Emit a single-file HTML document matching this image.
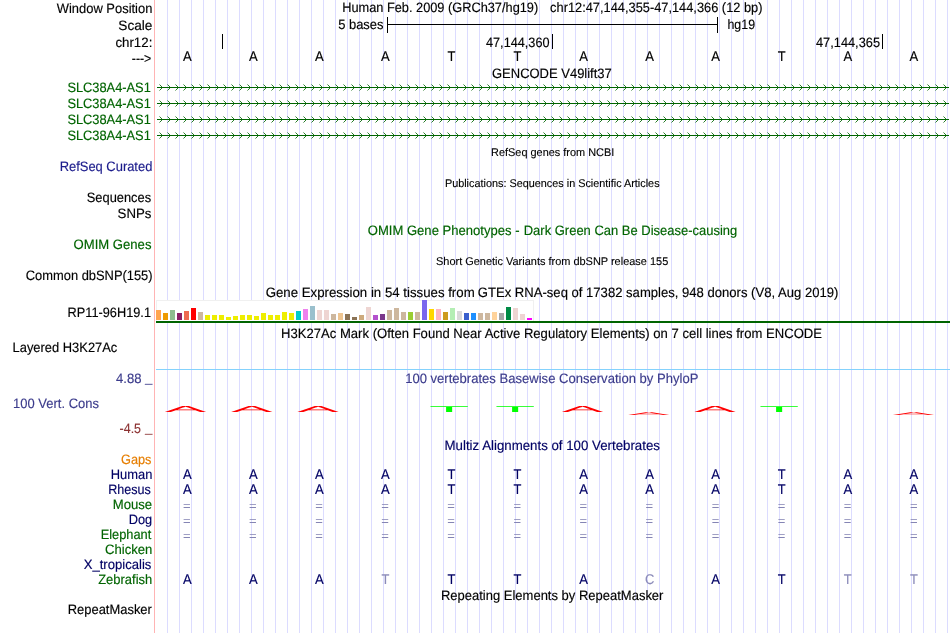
<!DOCTYPE html>
<html lang="en"><head><meta charset="utf-8"><title>UCSC Genome Browser chr12:47,144,355-47,144,366</title>
<style>
html,body{margin:0;padding:0;background:#fff;}
body{width:950px;height:633px;overflow:hidden;}
svg{display:block;}
text{font-family:"Liberation Sans", sans-serif;font-size:13.6px;fill:#000;stroke:#000;stroke-width:0.15px;text-rendering:geometricPrecision;}
.bl{font-size:14.1px;}
.r{text-anchor:end;}
.m{text-anchor:middle;}
.s{font-size:11.2px;stroke-width:0.12px;}
.g{fill:#006400;stroke:#006400;}
.n{fill:#000064;stroke:#000064;}
.n2{fill:#1c1c8c;stroke:#1c1c8c;}
.b{fill:#3c3c8c;stroke:#3c3c8c;}
.o{fill:#e67e00;stroke:#e67e00;}
.br{fill:#8c3232;stroke:#8c3232;}
.l{fill:#8c8cba;stroke:#8c8cba;}
.e{fill:#8585b4;stroke:none;font-size:12.3px;}
</style></head><body>
<svg width="950" height="633" viewBox="0 0 950 633">
<rect width="950" height="633" fill="#fff"/>
<g fill="#dcdcff">
<rect x="167" y="0" width="1" height="633"/>
<rect x="179" y="0" width="1" height="633"/>
<rect x="191" y="0" width="1" height="633"/>
<rect x="203" y="0" width="1" height="633"/>
<rect x="215" y="0" width="1" height="633"/>
<rect x="227" y="0" width="1" height="633"/>
<rect x="239" y="0" width="1" height="633"/>
<rect x="251" y="0" width="1" height="633"/>
<rect x="263" y="0" width="1" height="633"/>
<rect x="275" y="0" width="1" height="633"/>
<rect x="287" y="0" width="1" height="633"/>
<rect x="299" y="0" width="1" height="633"/>
<rect x="311" y="0" width="1" height="633"/>
<rect x="323" y="0" width="1" height="633"/>
<rect x="335" y="0" width="1" height="633"/>
<rect x="347" y="0" width="1" height="633"/>
<rect x="359" y="0" width="1" height="633"/>
<rect x="371" y="0" width="1" height="633"/>
<rect x="383" y="0" width="1" height="633"/>
<rect x="395" y="0" width="1" height="633"/>
<rect x="407" y="0" width="1" height="633"/>
<rect x="419" y="0" width="1" height="633"/>
<rect x="431" y="0" width="1" height="633"/>
<rect x="443" y="0" width="1" height="633"/>
<rect x="455" y="0" width="1" height="633"/>
<rect x="467" y="0" width="1" height="633"/>
<rect x="479" y="0" width="1" height="633"/>
<rect x="491" y="0" width="1" height="633"/>
<rect x="503" y="0" width="1" height="633"/>
<rect x="515" y="0" width="1" height="633"/>
<rect x="527" y="0" width="1" height="633"/>
<rect x="539" y="0" width="1" height="633"/>
<rect x="551" y="0" width="1" height="633"/>
<rect x="563" y="0" width="1" height="633"/>
<rect x="575" y="0" width="1" height="633"/>
<rect x="587" y="0" width="1" height="633"/>
<rect x="599" y="0" width="1" height="633"/>
<rect x="611" y="0" width="1" height="633"/>
<rect x="623" y="0" width="1" height="633"/>
<rect x="635" y="0" width="1" height="633"/>
<rect x="647" y="0" width="1" height="633"/>
<rect x="659" y="0" width="1" height="633"/>
<rect x="671" y="0" width="1" height="633"/>
<rect x="683" y="0" width="1" height="633"/>
<rect x="695" y="0" width="1" height="633"/>
<rect x="707" y="0" width="1" height="633"/>
<rect x="719" y="0" width="1" height="633"/>
<rect x="731" y="0" width="1" height="633"/>
<rect x="743" y="0" width="1" height="633"/>
<rect x="755" y="0" width="1" height="633"/>
<rect x="767" y="0" width="1" height="633"/>
<rect x="779" y="0" width="1" height="633"/>
<rect x="791" y="0" width="1" height="633"/>
<rect x="803" y="0" width="1" height="633"/>
<rect x="815" y="0" width="1" height="633"/>
<rect x="827" y="0" width="1" height="633"/>
<rect x="839" y="0" width="1" height="633"/>
<rect x="851" y="0" width="1" height="633"/>
<rect x="863" y="0" width="1" height="633"/>
<rect x="875" y="0" width="1" height="633"/>
<rect x="887" y="0" width="1" height="633"/>
<rect x="899" y="0" width="1" height="633"/>
<rect x="911" y="0" width="1" height="633"/>
<rect x="923" y="0" width="1" height="633"/>
<rect x="935" y="0" width="1" height="633"/>
<rect x="947" y="0" width="1" height="633"/>
</g>
<rect x="154" y="0" width="1" height="633" fill="#ffb4b4"/>
<text x="56.80" y="12.85" textLength="95.58" lengthAdjust="spacingAndGlyphs">Window Position</text>
<text x="118.35" y="29.85" textLength="34.12" lengthAdjust="spacingAndGlyphs">Scale</text>
<text x="115.39" y="46.85" textLength="36.97" lengthAdjust="spacingAndGlyphs">chr12:</text>
<text x="131.80" y="63.25" textLength="19.48" lengthAdjust="spacingAndGlyphs">---&gt;</text>
<text x="67.40" y="91.85" textLength="83.40" lengthAdjust="spacingAndGlyphs" class="g">SLC38A4-AS1</text>
<text x="67.40" y="107.85" textLength="83.40" lengthAdjust="spacingAndGlyphs" class="g">SLC38A4-AS1</text>
<text x="67.40" y="123.85" textLength="83.40" lengthAdjust="spacingAndGlyphs" class="g">SLC38A4-AS1</text>
<text x="67.40" y="139.85" textLength="83.40" lengthAdjust="spacingAndGlyphs" class="g">SLC38A4-AS1</text>
<text x="59.65" y="170.85" textLength="92.71" lengthAdjust="spacingAndGlyphs" class="n2">RefSeq Curated</text>
<text x="86.80" y="201.85" textLength="64.33" lengthAdjust="spacingAndGlyphs">Sequences</text>
<text x="117.58" y="217.85" textLength="33.81" lengthAdjust="spacingAndGlyphs">SNPs</text>
<text x="73.54" y="248.85" textLength="77.92" lengthAdjust="spacingAndGlyphs" class="g">OMIM Genes</text>
<text x="25.81" y="279.85" textLength="126.78" lengthAdjust="spacingAndGlyphs">Common dbSNP(155)</text>
<text x="67.56" y="316.85" textLength="83.45" lengthAdjust="spacingAndGlyphs">RP11-96H19.1</text>
<text x="12.55" y="351.85" textLength="104.78" lengthAdjust="spacingAndGlyphs">Layered H3K27Ac</text>
<text x="116.00" y="382.85" textLength="25.45" lengthAdjust="spacingAndGlyphs" class="b">4.88</text>
<text x="13.09" y="407.85" textLength="85.85" lengthAdjust="spacingAndGlyphs" class="b">100 Vert. Cons</text>
<text x="119.60" y="432.85" textLength="21.40" lengthAdjust="spacingAndGlyphs" class="br">-4.5</text>
<text x="121.02" y="463.85" textLength="30.48" lengthAdjust="spacingAndGlyphs" class="o">Gaps</text>
<text x="110.75" y="478.85" textLength="41.64" lengthAdjust="spacingAndGlyphs" class="n">Human</text>
<text x="108.18" y="493.85" textLength="42.61" lengthAdjust="spacingAndGlyphs" class="n">Rhesus</text>
<text x="112.73" y="508.85" textLength="39.42" lengthAdjust="spacingAndGlyphs" class="g">Mouse</text>
<text x="128.76" y="523.85" textLength="23.47" lengthAdjust="spacingAndGlyphs" class="n">Dog</text>
<text x="100.66" y="538.85" textLength="50.63" lengthAdjust="spacingAndGlyphs" class="g">Elephant</text>
<text x="105.00" y="553.85" textLength="47.39" lengthAdjust="spacingAndGlyphs" class="g">Chicken</text>
<text x="83.69" y="568.85" textLength="67.67" lengthAdjust="spacingAndGlyphs" class="n">X_tropicalis</text>
<text x="98.20" y="583.85" textLength="54.04" lengthAdjust="spacingAndGlyphs" class="g">Zebrafish</text>
<text x="67.75" y="613.85" textLength="84.10" lengthAdjust="spacingAndGlyphs">RepeatMasker</text>
<text x="342.16" y="11.70" textLength="196.07" lengthAdjust="spacingAndGlyphs">Human Feb. 2009 (GRCh37/hg19)</text>
<text x="550.11" y="11.70" textLength="212.38" lengthAdjust="spacingAndGlyphs">chr12:47,144,355-47,144,366 (12 bp)</text>
<text x="338.20" y="28.85" textLength="45.33" lengthAdjust="spacingAndGlyphs">5 bases</text>
<text x="727.47" y="28.85" textLength="27.56" lengthAdjust="spacingAndGlyphs">hg19</text>
<text x="486.00" y="47.05" textLength="63.54" lengthAdjust="spacingAndGlyphs">47,144,360</text>
<text x="816.00" y="47.05" textLength="64.03" lengthAdjust="spacingAndGlyphs">47,144,365</text>
<text x="492.01" y="77.95" textLength="119.79" lengthAdjust="spacingAndGlyphs">GENCODE V49lift37</text>
<text x="491.11" y="155.85" textLength="123.11" lengthAdjust="spacingAndGlyphs" class="s">RefSeq genes from NCBI</text>
<text x="444.91" y="186.85" textLength="214.67" lengthAdjust="spacingAndGlyphs" class="s">Publications: Sequences in Scientific Articles</text>
<text x="367.75" y="234.55" textLength="151.78" lengthAdjust="spacingAndGlyphs" class="g">OMIM Gene Phenotypes -</text>
<text x="523.75" y="234.55" textLength="213.48" lengthAdjust="spacingAndGlyphs" class="g">Dark Green Can Be Disease-causing</text>
<text x="435.99" y="264.85" textLength="232.25" lengthAdjust="spacingAndGlyphs" class="s">Short Genetic Variants from dbSNP release 155</text>
<text x="265.70" y="296.60" textLength="208.98" lengthAdjust="spacingAndGlyphs">Gene Expression in 54 tissues from</text>
<text x="477.80" y="296.60" textLength="360.56" lengthAdjust="spacingAndGlyphs">GTEx RNA-seq of 17382 samples, 948 donors (V8, Aug 2019)</text>
<text x="281.04" y="337.60" textLength="540.97" lengthAdjust="spacingAndGlyphs">H3K27Ac Mark (Often Found Near Active Regulatory Elements) on 7 cell lines from ENCODE</text>
<text x="405.18" y="383.40" textLength="293.19" lengthAdjust="spacingAndGlyphs" class="b">100 vertebrates Basewise Conservation by PhyloP</text>
<text x="444.52" y="449.50" textLength="215.43" lengthAdjust="spacingAndGlyphs" class="n">Multiz Alignments of 100 Vertebrates</text>
<text x="440.94" y="599.60" textLength="222.50" lengthAdjust="spacingAndGlyphs">Repeating Elements by RepeatMasker</text>
<text x="144.9" y="381.8" class="b" style="stroke:none" textLength="7.4" lengthAdjust="spacingAndGlyphs">_</text>
<text x="144.9" y="431.7" class="br" style="stroke:none" textLength="7.4" lengthAdjust="spacingAndGlyphs">_</text>
<g fill="#000">
<rect x="387" y="24" width="331" height="1"/>
<rect x="387" y="17" width="1" height="16"/>
<rect x="717" y="17" width="1" height="16"/>
<rect x="222" y="34" width="1" height="15"/>
<rect x="552" y="34" width="1" height="15"/>
<rect x="882" y="34" width="1" height="15"/>
</g>
<text x="182.95" y="60.55" textLength="8.70" lengthAdjust="spacingAndGlyphs" class="bl">A</text>
<text x="249.00" y="60.55" textLength="8.70" lengthAdjust="spacingAndGlyphs" class="bl">A</text>
<text x="315.05" y="60.55" textLength="8.70" lengthAdjust="spacingAndGlyphs" class="bl">A</text>
<text x="381.10" y="60.55" textLength="8.70" lengthAdjust="spacingAndGlyphs" class="bl">A</text>
<text x="447.56" y="60.55" textLength="7.88" lengthAdjust="spacingAndGlyphs" class="bl">T</text>
<text x="513.61" y="60.55" textLength="7.88" lengthAdjust="spacingAndGlyphs" class="bl">T</text>
<text x="579.25" y="60.55" textLength="8.70" lengthAdjust="spacingAndGlyphs" class="bl">A</text>
<text x="645.30" y="60.55" textLength="8.70" lengthAdjust="spacingAndGlyphs" class="bl">A</text>
<text x="711.35" y="60.55" textLength="8.70" lengthAdjust="spacingAndGlyphs" class="bl">A</text>
<text x="777.81" y="60.55" textLength="7.88" lengthAdjust="spacingAndGlyphs" class="bl">T</text>
<text x="843.45" y="60.55" textLength="8.70" lengthAdjust="spacingAndGlyphs" class="bl">A</text>
<text x="909.50" y="60.55" textLength="8.70" lengthAdjust="spacingAndGlyphs" class="bl">A</text>
<g stroke="#006400" stroke-width="1" fill="none">
<path d="M157 87.5H949"/>
<path d="M159.5 84.5L162.5 87.5L159.5 90.5M167.5 84.5L170.5 87.5L167.5 90.5M175.5 84.5L178.5 87.5L175.5 90.5M183.5 84.5L186.5 87.5L183.5 90.5M191.5 84.5L194.5 87.5L191.5 90.5M199.5 84.5L202.5 87.5L199.5 90.5M207.5 84.5L210.5 87.5L207.5 90.5M215.5 84.5L218.5 87.5L215.5 90.5M223.5 84.5L226.5 87.5L223.5 90.5M231.5 84.5L234.5 87.5L231.5 90.5M239.5 84.5L242.5 87.5L239.5 90.5M247.5 84.5L250.5 87.5L247.5 90.5M255.5 84.5L258.5 87.5L255.5 90.5M263.5 84.5L266.5 87.5L263.5 90.5M271.5 84.5L274.5 87.5L271.5 90.5M279.5 84.5L282.5 87.5L279.5 90.5M287.5 84.5L290.5 87.5L287.5 90.5M295.5 84.5L298.5 87.5L295.5 90.5M303.5 84.5L306.5 87.5L303.5 90.5M311.5 84.5L314.5 87.5L311.5 90.5M319.5 84.5L322.5 87.5L319.5 90.5M327.5 84.5L330.5 87.5L327.5 90.5M335.5 84.5L338.5 87.5L335.5 90.5M343.5 84.5L346.5 87.5L343.5 90.5M351.5 84.5L354.5 87.5L351.5 90.5M359.5 84.5L362.5 87.5L359.5 90.5M367.5 84.5L370.5 87.5L367.5 90.5M375.5 84.5L378.5 87.5L375.5 90.5M383.5 84.5L386.5 87.5L383.5 90.5M391.5 84.5L394.5 87.5L391.5 90.5M399.5 84.5L402.5 87.5L399.5 90.5M407.5 84.5L410.5 87.5L407.5 90.5M415.5 84.5L418.5 87.5L415.5 90.5M423.5 84.5L426.5 87.5L423.5 90.5M431.5 84.5L434.5 87.5L431.5 90.5M439.5 84.5L442.5 87.5L439.5 90.5M447.5 84.5L450.5 87.5L447.5 90.5M455.5 84.5L458.5 87.5L455.5 90.5M463.5 84.5L466.5 87.5L463.5 90.5M471.5 84.5L474.5 87.5L471.5 90.5M479.5 84.5L482.5 87.5L479.5 90.5M487.5 84.5L490.5 87.5L487.5 90.5M495.5 84.5L498.5 87.5L495.5 90.5M503.5 84.5L506.5 87.5L503.5 90.5M511.5 84.5L514.5 87.5L511.5 90.5M519.5 84.5L522.5 87.5L519.5 90.5M527.5 84.5L530.5 87.5L527.5 90.5M535.5 84.5L538.5 87.5L535.5 90.5M543.5 84.5L546.5 87.5L543.5 90.5M551.5 84.5L554.5 87.5L551.5 90.5M559.5 84.5L562.5 87.5L559.5 90.5M567.5 84.5L570.5 87.5L567.5 90.5M575.5 84.5L578.5 87.5L575.5 90.5M583.5 84.5L586.5 87.5L583.5 90.5M591.5 84.5L594.5 87.5L591.5 90.5M599.5 84.5L602.5 87.5L599.5 90.5M607.5 84.5L610.5 87.5L607.5 90.5M615.5 84.5L618.5 87.5L615.5 90.5M623.5 84.5L626.5 87.5L623.5 90.5M631.5 84.5L634.5 87.5L631.5 90.5M639.5 84.5L642.5 87.5L639.5 90.5M647.5 84.5L650.5 87.5L647.5 90.5M655.5 84.5L658.5 87.5L655.5 90.5M663.5 84.5L666.5 87.5L663.5 90.5M671.5 84.5L674.5 87.5L671.5 90.5M679.5 84.5L682.5 87.5L679.5 90.5M687.5 84.5L690.5 87.5L687.5 90.5M695.5 84.5L698.5 87.5L695.5 90.5M703.5 84.5L706.5 87.5L703.5 90.5M711.5 84.5L714.5 87.5L711.5 90.5M719.5 84.5L722.5 87.5L719.5 90.5M727.5 84.5L730.5 87.5L727.5 90.5M735.5 84.5L738.5 87.5L735.5 90.5M743.5 84.5L746.5 87.5L743.5 90.5M751.5 84.5L754.5 87.5L751.5 90.5M759.5 84.5L762.5 87.5L759.5 90.5M767.5 84.5L770.5 87.5L767.5 90.5M775.5 84.5L778.5 87.5L775.5 90.5M783.5 84.5L786.5 87.5L783.5 90.5M791.5 84.5L794.5 87.5L791.5 90.5M799.5 84.5L802.5 87.5L799.5 90.5M807.5 84.5L810.5 87.5L807.5 90.5M815.5 84.5L818.5 87.5L815.5 90.5M823.5 84.5L826.5 87.5L823.5 90.5M831.5 84.5L834.5 87.5L831.5 90.5M839.5 84.5L842.5 87.5L839.5 90.5M847.5 84.5L850.5 87.5L847.5 90.5M855.5 84.5L858.5 87.5L855.5 90.5M863.5 84.5L866.5 87.5L863.5 90.5M871.5 84.5L874.5 87.5L871.5 90.5M879.5 84.5L882.5 87.5L879.5 90.5M887.5 84.5L890.5 87.5L887.5 90.5M895.5 84.5L898.5 87.5L895.5 90.5M903.5 84.5L906.5 87.5L903.5 90.5M911.5 84.5L914.5 87.5L911.5 90.5M919.5 84.5L922.5 87.5L919.5 90.5M927.5 84.5L930.5 87.5L927.5 90.5M935.5 84.5L938.5 87.5L935.5 90.5M943.5 84.5L946.5 87.5L943.5 90.5" stroke-width="0.85"/>
<path d="M157 103.5H949"/>
<path d="M159.5 100.5L162.5 103.5L159.5 106.5M167.5 100.5L170.5 103.5L167.5 106.5M175.5 100.5L178.5 103.5L175.5 106.5M183.5 100.5L186.5 103.5L183.5 106.5M191.5 100.5L194.5 103.5L191.5 106.5M199.5 100.5L202.5 103.5L199.5 106.5M207.5 100.5L210.5 103.5L207.5 106.5M215.5 100.5L218.5 103.5L215.5 106.5M223.5 100.5L226.5 103.5L223.5 106.5M231.5 100.5L234.5 103.5L231.5 106.5M239.5 100.5L242.5 103.5L239.5 106.5M247.5 100.5L250.5 103.5L247.5 106.5M255.5 100.5L258.5 103.5L255.5 106.5M263.5 100.5L266.5 103.5L263.5 106.5M271.5 100.5L274.5 103.5L271.5 106.5M279.5 100.5L282.5 103.5L279.5 106.5M287.5 100.5L290.5 103.5L287.5 106.5M295.5 100.5L298.5 103.5L295.5 106.5M303.5 100.5L306.5 103.5L303.5 106.5M311.5 100.5L314.5 103.5L311.5 106.5M319.5 100.5L322.5 103.5L319.5 106.5M327.5 100.5L330.5 103.5L327.5 106.5M335.5 100.5L338.5 103.5L335.5 106.5M343.5 100.5L346.5 103.5L343.5 106.5M351.5 100.5L354.5 103.5L351.5 106.5M359.5 100.5L362.5 103.5L359.5 106.5M367.5 100.5L370.5 103.5L367.5 106.5M375.5 100.5L378.5 103.5L375.5 106.5M383.5 100.5L386.5 103.5L383.5 106.5M391.5 100.5L394.5 103.5L391.5 106.5M399.5 100.5L402.5 103.5L399.5 106.5M407.5 100.5L410.5 103.5L407.5 106.5M415.5 100.5L418.5 103.5L415.5 106.5M423.5 100.5L426.5 103.5L423.5 106.5M431.5 100.5L434.5 103.5L431.5 106.5M439.5 100.5L442.5 103.5L439.5 106.5M447.5 100.5L450.5 103.5L447.5 106.5M455.5 100.5L458.5 103.5L455.5 106.5M463.5 100.5L466.5 103.5L463.5 106.5M471.5 100.5L474.5 103.5L471.5 106.5M479.5 100.5L482.5 103.5L479.5 106.5M487.5 100.5L490.5 103.5L487.5 106.5M495.5 100.5L498.5 103.5L495.5 106.5M503.5 100.5L506.5 103.5L503.5 106.5M511.5 100.5L514.5 103.5L511.5 106.5M519.5 100.5L522.5 103.5L519.5 106.5M527.5 100.5L530.5 103.5L527.5 106.5M535.5 100.5L538.5 103.5L535.5 106.5M543.5 100.5L546.5 103.5L543.5 106.5M551.5 100.5L554.5 103.5L551.5 106.5M559.5 100.5L562.5 103.5L559.5 106.5M567.5 100.5L570.5 103.5L567.5 106.5M575.5 100.5L578.5 103.5L575.5 106.5M583.5 100.5L586.5 103.5L583.5 106.5M591.5 100.5L594.5 103.5L591.5 106.5M599.5 100.5L602.5 103.5L599.5 106.5M607.5 100.5L610.5 103.5L607.5 106.5M615.5 100.5L618.5 103.5L615.5 106.5M623.5 100.5L626.5 103.5L623.5 106.5M631.5 100.5L634.5 103.5L631.5 106.5M639.5 100.5L642.5 103.5L639.5 106.5M647.5 100.5L650.5 103.5L647.5 106.5M655.5 100.5L658.5 103.5L655.5 106.5M663.5 100.5L666.5 103.5L663.5 106.5M671.5 100.5L674.5 103.5L671.5 106.5M679.5 100.5L682.5 103.5L679.5 106.5M687.5 100.5L690.5 103.5L687.5 106.5M695.5 100.5L698.5 103.5L695.5 106.5M703.5 100.5L706.5 103.5L703.5 106.5M711.5 100.5L714.5 103.5L711.5 106.5M719.5 100.5L722.5 103.5L719.5 106.5M727.5 100.5L730.5 103.5L727.5 106.5M735.5 100.5L738.5 103.5L735.5 106.5M743.5 100.5L746.5 103.5L743.5 106.5M751.5 100.5L754.5 103.5L751.5 106.5M759.5 100.5L762.5 103.5L759.5 106.5M767.5 100.5L770.5 103.5L767.5 106.5M775.5 100.5L778.5 103.5L775.5 106.5M783.5 100.5L786.5 103.5L783.5 106.5M791.5 100.5L794.5 103.5L791.5 106.5M799.5 100.5L802.5 103.5L799.5 106.5M807.5 100.5L810.5 103.5L807.5 106.5M815.5 100.5L818.5 103.5L815.5 106.5M823.5 100.5L826.5 103.5L823.5 106.5M831.5 100.5L834.5 103.5L831.5 106.5M839.5 100.5L842.5 103.5L839.5 106.5M847.5 100.5L850.5 103.5L847.5 106.5M855.5 100.5L858.5 103.5L855.5 106.5M863.5 100.5L866.5 103.5L863.5 106.5M871.5 100.5L874.5 103.5L871.5 106.5M879.5 100.5L882.5 103.5L879.5 106.5M887.5 100.5L890.5 103.5L887.5 106.5M895.5 100.5L898.5 103.5L895.5 106.5M903.5 100.5L906.5 103.5L903.5 106.5M911.5 100.5L914.5 103.5L911.5 106.5M919.5 100.5L922.5 103.5L919.5 106.5M927.5 100.5L930.5 103.5L927.5 106.5M935.5 100.5L938.5 103.5L935.5 106.5M943.5 100.5L946.5 103.5L943.5 106.5" stroke-width="0.85"/>
<path d="M157 119.5H949"/>
<path d="M159.5 116.5L162.5 119.5L159.5 122.5M167.5 116.5L170.5 119.5L167.5 122.5M175.5 116.5L178.5 119.5L175.5 122.5M183.5 116.5L186.5 119.5L183.5 122.5M191.5 116.5L194.5 119.5L191.5 122.5M199.5 116.5L202.5 119.5L199.5 122.5M207.5 116.5L210.5 119.5L207.5 122.5M215.5 116.5L218.5 119.5L215.5 122.5M223.5 116.5L226.5 119.5L223.5 122.5M231.5 116.5L234.5 119.5L231.5 122.5M239.5 116.5L242.5 119.5L239.5 122.5M247.5 116.5L250.5 119.5L247.5 122.5M255.5 116.5L258.5 119.5L255.5 122.5M263.5 116.5L266.5 119.5L263.5 122.5M271.5 116.5L274.5 119.5L271.5 122.5M279.5 116.5L282.5 119.5L279.5 122.5M287.5 116.5L290.5 119.5L287.5 122.5M295.5 116.5L298.5 119.5L295.5 122.5M303.5 116.5L306.5 119.5L303.5 122.5M311.5 116.5L314.5 119.5L311.5 122.5M319.5 116.5L322.5 119.5L319.5 122.5M327.5 116.5L330.5 119.5L327.5 122.5M335.5 116.5L338.5 119.5L335.5 122.5M343.5 116.5L346.5 119.5L343.5 122.5M351.5 116.5L354.5 119.5L351.5 122.5M359.5 116.5L362.5 119.5L359.5 122.5M367.5 116.5L370.5 119.5L367.5 122.5M375.5 116.5L378.5 119.5L375.5 122.5M383.5 116.5L386.5 119.5L383.5 122.5M391.5 116.5L394.5 119.5L391.5 122.5M399.5 116.5L402.5 119.5L399.5 122.5M407.5 116.5L410.5 119.5L407.5 122.5M415.5 116.5L418.5 119.5L415.5 122.5M423.5 116.5L426.5 119.5L423.5 122.5M431.5 116.5L434.5 119.5L431.5 122.5M439.5 116.5L442.5 119.5L439.5 122.5M447.5 116.5L450.5 119.5L447.5 122.5M455.5 116.5L458.5 119.5L455.5 122.5M463.5 116.5L466.5 119.5L463.5 122.5M471.5 116.5L474.5 119.5L471.5 122.5M479.5 116.5L482.5 119.5L479.5 122.5M487.5 116.5L490.5 119.5L487.5 122.5M495.5 116.5L498.5 119.5L495.5 122.5M503.5 116.5L506.5 119.5L503.5 122.5M511.5 116.5L514.5 119.5L511.5 122.5M519.5 116.5L522.5 119.5L519.5 122.5M527.5 116.5L530.5 119.5L527.5 122.5M535.5 116.5L538.5 119.5L535.5 122.5M543.5 116.5L546.5 119.5L543.5 122.5M551.5 116.5L554.5 119.5L551.5 122.5M559.5 116.5L562.5 119.5L559.5 122.5M567.5 116.5L570.5 119.5L567.5 122.5M575.5 116.5L578.5 119.5L575.5 122.5M583.5 116.5L586.5 119.5L583.5 122.5M591.5 116.5L594.5 119.5L591.5 122.5M599.5 116.5L602.5 119.5L599.5 122.5M607.5 116.5L610.5 119.5L607.5 122.5M615.5 116.5L618.5 119.5L615.5 122.5M623.5 116.5L626.5 119.5L623.5 122.5M631.5 116.5L634.5 119.5L631.5 122.5M639.5 116.5L642.5 119.5L639.5 122.5M647.5 116.5L650.5 119.5L647.5 122.5M655.5 116.5L658.5 119.5L655.5 122.5M663.5 116.5L666.5 119.5L663.5 122.5M671.5 116.5L674.5 119.5L671.5 122.5M679.5 116.5L682.5 119.5L679.5 122.5M687.5 116.5L690.5 119.5L687.5 122.5M695.5 116.5L698.5 119.5L695.5 122.5M703.5 116.5L706.5 119.5L703.5 122.5M711.5 116.5L714.5 119.5L711.5 122.5M719.5 116.5L722.5 119.5L719.5 122.5M727.5 116.5L730.5 119.5L727.5 122.5M735.5 116.5L738.5 119.5L735.5 122.5M743.5 116.5L746.5 119.5L743.5 122.5M751.5 116.5L754.5 119.5L751.5 122.5M759.5 116.5L762.5 119.5L759.5 122.5M767.5 116.5L770.5 119.5L767.5 122.5M775.5 116.5L778.5 119.5L775.5 122.5M783.5 116.5L786.5 119.5L783.5 122.5M791.5 116.5L794.5 119.5L791.5 122.5M799.5 116.5L802.5 119.5L799.5 122.5M807.5 116.5L810.5 119.5L807.5 122.5M815.5 116.5L818.5 119.5L815.5 122.5M823.5 116.5L826.5 119.5L823.5 122.5M831.5 116.5L834.5 119.5L831.5 122.5M839.5 116.5L842.5 119.5L839.5 122.5M847.5 116.5L850.5 119.5L847.5 122.5M855.5 116.5L858.5 119.5L855.5 122.5M863.5 116.5L866.5 119.5L863.5 122.5M871.5 116.5L874.5 119.5L871.5 122.5M879.5 116.5L882.5 119.5L879.5 122.5M887.5 116.5L890.5 119.5L887.5 122.5M895.5 116.5L898.5 119.5L895.5 122.5M903.5 116.5L906.5 119.5L903.5 122.5M911.5 116.5L914.5 119.5L911.5 122.5M919.5 116.5L922.5 119.5L919.5 122.5M927.5 116.5L930.5 119.5L927.5 122.5M935.5 116.5L938.5 119.5L935.5 122.5M943.5 116.5L946.5 119.5L943.5 122.5" stroke-width="0.85"/>
<path d="M157 135.5H949"/>
<path d="M159.5 132.5L162.5 135.5L159.5 138.5M167.5 132.5L170.5 135.5L167.5 138.5M175.5 132.5L178.5 135.5L175.5 138.5M183.5 132.5L186.5 135.5L183.5 138.5M191.5 132.5L194.5 135.5L191.5 138.5M199.5 132.5L202.5 135.5L199.5 138.5M207.5 132.5L210.5 135.5L207.5 138.5M215.5 132.5L218.5 135.5L215.5 138.5M223.5 132.5L226.5 135.5L223.5 138.5M231.5 132.5L234.5 135.5L231.5 138.5M239.5 132.5L242.5 135.5L239.5 138.5M247.5 132.5L250.5 135.5L247.5 138.5M255.5 132.5L258.5 135.5L255.5 138.5M263.5 132.5L266.5 135.5L263.5 138.5M271.5 132.5L274.5 135.5L271.5 138.5M279.5 132.5L282.5 135.5L279.5 138.5M287.5 132.5L290.5 135.5L287.5 138.5M295.5 132.5L298.5 135.5L295.5 138.5M303.5 132.5L306.5 135.5L303.5 138.5M311.5 132.5L314.5 135.5L311.5 138.5M319.5 132.5L322.5 135.5L319.5 138.5M327.5 132.5L330.5 135.5L327.5 138.5M335.5 132.5L338.5 135.5L335.5 138.5M343.5 132.5L346.5 135.5L343.5 138.5M351.5 132.5L354.5 135.5L351.5 138.5M359.5 132.5L362.5 135.5L359.5 138.5M367.5 132.5L370.5 135.5L367.5 138.5M375.5 132.5L378.5 135.5L375.5 138.5M383.5 132.5L386.5 135.5L383.5 138.5M391.5 132.5L394.5 135.5L391.5 138.5M399.5 132.5L402.5 135.5L399.5 138.5M407.5 132.5L410.5 135.5L407.5 138.5M415.5 132.5L418.5 135.5L415.5 138.5M423.5 132.5L426.5 135.5L423.5 138.5M431.5 132.5L434.5 135.5L431.5 138.5M439.5 132.5L442.5 135.5L439.5 138.5M447.5 132.5L450.5 135.5L447.5 138.5M455.5 132.5L458.5 135.5L455.5 138.5M463.5 132.5L466.5 135.5L463.5 138.5M471.5 132.5L474.5 135.5L471.5 138.5M479.5 132.5L482.5 135.5L479.5 138.5M487.5 132.5L490.5 135.5L487.5 138.5M495.5 132.5L498.5 135.5L495.5 138.5M503.5 132.5L506.5 135.5L503.5 138.5M511.5 132.5L514.5 135.5L511.5 138.5M519.5 132.5L522.5 135.5L519.5 138.5M527.5 132.5L530.5 135.5L527.5 138.5M535.5 132.5L538.5 135.5L535.5 138.5M543.5 132.5L546.5 135.5L543.5 138.5M551.5 132.5L554.5 135.5L551.5 138.5M559.5 132.5L562.5 135.5L559.5 138.5M567.5 132.5L570.5 135.5L567.5 138.5M575.5 132.5L578.5 135.5L575.5 138.5M583.5 132.5L586.5 135.5L583.5 138.5M591.5 132.5L594.5 135.5L591.5 138.5M599.5 132.5L602.5 135.5L599.5 138.5M607.5 132.5L610.5 135.5L607.5 138.5M615.5 132.5L618.5 135.5L615.5 138.5M623.5 132.5L626.5 135.5L623.5 138.5M631.5 132.5L634.5 135.5L631.5 138.5M639.5 132.5L642.5 135.5L639.5 138.5M647.5 132.5L650.5 135.5L647.5 138.5M655.5 132.5L658.5 135.5L655.5 138.5M663.5 132.5L666.5 135.5L663.5 138.5M671.5 132.5L674.5 135.5L671.5 138.5M679.5 132.5L682.5 135.5L679.5 138.5M687.5 132.5L690.5 135.5L687.5 138.5M695.5 132.5L698.5 135.5L695.5 138.5M703.5 132.5L706.5 135.5L703.5 138.5M711.5 132.5L714.5 135.5L711.5 138.5M719.5 132.5L722.5 135.5L719.5 138.5M727.5 132.5L730.5 135.5L727.5 138.5M735.5 132.5L738.5 135.5L735.5 138.5M743.5 132.5L746.5 135.5L743.5 138.5M751.5 132.5L754.5 135.5L751.5 138.5M759.5 132.5L762.5 135.5L759.5 138.5M767.5 132.5L770.5 135.5L767.5 138.5M775.5 132.5L778.5 135.5L775.5 138.5M783.5 132.5L786.5 135.5L783.5 138.5M791.5 132.5L794.5 135.5L791.5 138.5M799.5 132.5L802.5 135.5L799.5 138.5M807.5 132.5L810.5 135.5L807.5 138.5M815.5 132.5L818.5 135.5L815.5 138.5M823.5 132.5L826.5 135.5L823.5 138.5M831.5 132.5L834.5 135.5L831.5 138.5M839.5 132.5L842.5 135.5L839.5 138.5M847.5 132.5L850.5 135.5L847.5 138.5M855.5 132.5L858.5 135.5L855.5 138.5M863.5 132.5L866.5 135.5L863.5 138.5M871.5 132.5L874.5 135.5L871.5 138.5M879.5 132.5L882.5 135.5L879.5 138.5M887.5 132.5L890.5 135.5L887.5 138.5M895.5 132.5L898.5 135.5L895.5 138.5M903.5 132.5L906.5 135.5L903.5 138.5M911.5 132.5L914.5 135.5L911.5 138.5M919.5 132.5L922.5 135.5L919.5 138.5M927.5 132.5L930.5 135.5L927.5 138.5M935.5 132.5L938.5 135.5L935.5 138.5M943.5 132.5L946.5 135.5L943.5 138.5" stroke-width="0.85"/>
</g>
<rect x="156.5" y="300.5" width="377" height="21" fill="#fff" stroke="#f0f0f0"/>
<rect x="156" y="310" width="5" height="10" fill="#ffa54f"/>
<rect x="163" y="313" width="5" height="7" fill="#ee9a00"/>
<rect x="170" y="310" width="5" height="10" fill="#8fbc8f"/>
<rect x="177" y="313" width="5" height="7" fill="#8b1c62"/>
<rect x="184" y="311" width="5" height="9" fill="#ee6a50"/>
<rect x="191" y="308" width="5" height="12" fill="#ff0000"/>
<rect x="198" y="312" width="5" height="8" fill="#cdb79e"/>
<rect x="205" y="315" width="5" height="5" fill="#eeee00"/>
<rect x="212" y="315" width="5" height="5" fill="#eeee00"/>
<rect x="219" y="315" width="5" height="5" fill="#eeee00"/>
<rect x="226" y="317" width="5" height="3" fill="#eeee00"/>
<rect x="233" y="316" width="5" height="4" fill="#eeee00"/>
<rect x="240" y="315" width="5" height="5" fill="#eeee00"/>
<rect x="247" y="315" width="5" height="5" fill="#eeee00"/>
<rect x="254" y="316" width="5" height="4" fill="#eeee00"/>
<rect x="261" y="313" width="5" height="7" fill="#eeee00"/>
<rect x="268" y="315" width="5" height="5" fill="#eeee00"/>
<rect x="275" y="315" width="5" height="5" fill="#eeee00"/>
<rect x="282" y="312" width="5" height="8" fill="#eeee00"/>
<rect x="289" y="313" width="5" height="7" fill="#eeee00"/>
<rect x="296" y="311" width="5" height="9" fill="#00cdcd"/>
<rect x="303" y="309" width="5" height="11" fill="#ee82ee"/>
<rect x="310" y="306" width="5" height="14" fill="#9ac0cd"/>
<rect x="317" y="310" width="5" height="10" fill="#eed5d2"/>
<rect x="324" y="310" width="5" height="10" fill="#eed5d2"/>
<rect x="331" y="314" width="5" height="6" fill="#cdb79e"/>
<rect x="338" y="313" width="5" height="7" fill="#eec591"/>
<rect x="345" y="314" width="5" height="6" fill="#8b7355"/>
<rect x="352" y="317" width="5" height="3" fill="#8b7355"/>
<rect x="359" y="315" width="5" height="5" fill="#cdaa7d"/>
<rect x="366" y="307" width="5" height="13" fill="#eed5d2"/>
<rect x="373" y="315" width="5" height="5" fill="#b452cd"/>
<rect x="380" y="314" width="5" height="6" fill="#7a378b"/>
<rect x="387" y="310" width="5" height="10" fill="#cdb79e"/>
<rect x="394" y="308" width="5" height="12" fill="#cdb79e"/>
<rect x="401" y="312" width="5" height="8" fill="#cdb79e"/>
<rect x="408" y="312" width="5" height="8" fill="#9acd32"/>
<rect x="415" y="312" width="5" height="8" fill="#cdb79e"/>
<rect x="422" y="300" width="5" height="20" fill="#7a67ee"/>
<rect x="429" y="309" width="5" height="11" fill="#ffd700"/>
<rect x="436" y="309" width="5" height="11" fill="#ffb6c1"/>
<rect x="443" y="312" width="5" height="8" fill="#cd9b1d"/>
<rect x="450" y="308" width="5" height="12" fill="#b4eeb4"/>
<rect x="457" y="311" width="5" height="9" fill="#d9d9d9"/>
<rect x="464" y="313" width="5" height="7" fill="#3a5fcd"/>
<rect x="471" y="313" width="5" height="7" fill="#1e90ff"/>
<rect x="478" y="313" width="5" height="7" fill="#cdb79e"/>
<rect x="485" y="313" width="5" height="7" fill="#cdb79e"/>
<rect x="492" y="312" width="5" height="8" fill="#ffd39b"/>
<rect x="499" y="313" width="5" height="7" fill="#a6a6a6"/>
<rect x="506" y="307" width="5" height="13" fill="#008b45"/>
<rect x="513" y="308" width="5" height="12" fill="#eed5d2"/>
<rect x="520" y="314" width="5" height="6" fill="#eed5d2"/>
<rect x="527" y="318" width="5" height="2" fill="#ff00ff"/>
<rect x="156" y="321" width="794" height="2" fill="#006400"/>
<rect x="156" y="369" width="794" height="1" fill="#84d2fd"/>
<text transform="translate(185.6 412) scale(3.1109 0.4399)" x="0" y="0" class="m" style="font-size:20.0px;fill:#ff0000;stroke:none">A</text>
<text transform="translate(251.76999999999998 412) scale(3.1109 0.4399)" x="0" y="0" class="m" style="font-size:20.0px;fill:#ff0000;stroke:none">A</text>
<text transform="translate(317.94 412) scale(3.1109 0.4399)" x="0" y="0" class="m" style="font-size:20.0px;fill:#ff0000;stroke:none">A</text>
<text transform="translate(449.05 412) scale(3.2997 0.4190)" x="0" y="0" class="m" style="font-size:20.0px;fill:#00ff00;stroke:none">T</text>
<text transform="translate(515.05 412) scale(3.2997 0.4190)" x="0" y="0" class="m" style="font-size:20.0px;fill:#00ff00;stroke:none">T</text>
<text transform="translate(582.62 412) scale(3.1109 0.4399)" x="0" y="0" class="m" style="font-size:20.0px;fill:#ff0000;stroke:none">A</text>
<text transform="translate(648.79 415) scale(3.1109 0.2095)" x="0" y="0" class="m" style="font-size:20.0px;fill:#ff0000;stroke:none">A</text>
<text transform="translate(714.96 412) scale(3.1109 0.4399)" x="0" y="0" class="m" style="font-size:20.0px;fill:#ff0000;stroke:none">A</text>
<text transform="translate(779.05 412) scale(3.2997 0.4190)" x="0" y="0" class="m" style="font-size:20.0px;fill:#00ff00;stroke:none">T</text>
<text transform="translate(913.47 415) scale(3.1109 0.2095)" x="0" y="0" class="m" style="font-size:20.0px;fill:#ff0000;stroke:none">A</text>
<text x="182.95" y="478.85" textLength="8.70" lengthAdjust="spacingAndGlyphs" class="bl n">A</text>
<text x="249.00" y="478.85" textLength="8.70" lengthAdjust="spacingAndGlyphs" class="bl n">A</text>
<text x="315.05" y="478.85" textLength="8.70" lengthAdjust="spacingAndGlyphs" class="bl n">A</text>
<text x="381.10" y="478.85" textLength="8.70" lengthAdjust="spacingAndGlyphs" class="bl n">A</text>
<text x="447.56" y="478.85" textLength="7.88" lengthAdjust="spacingAndGlyphs" class="bl n">T</text>
<text x="513.61" y="478.85" textLength="7.88" lengthAdjust="spacingAndGlyphs" class="bl n">T</text>
<text x="579.25" y="478.85" textLength="8.70" lengthAdjust="spacingAndGlyphs" class="bl n">A</text>
<text x="645.30" y="478.85" textLength="8.70" lengthAdjust="spacingAndGlyphs" class="bl n">A</text>
<text x="711.35" y="478.85" textLength="8.70" lengthAdjust="spacingAndGlyphs" class="bl n">A</text>
<text x="777.81" y="478.85" textLength="7.88" lengthAdjust="spacingAndGlyphs" class="bl n">T</text>
<text x="843.45" y="478.85" textLength="8.70" lengthAdjust="spacingAndGlyphs" class="bl n">A</text>
<text x="909.50" y="478.85" textLength="8.70" lengthAdjust="spacingAndGlyphs" class="bl n">A</text>
<text x="182.95" y="493.85" textLength="8.70" lengthAdjust="spacingAndGlyphs" class="bl n">A</text>
<text x="249.00" y="493.85" textLength="8.70" lengthAdjust="spacingAndGlyphs" class="bl n">A</text>
<text x="315.05" y="493.85" textLength="8.70" lengthAdjust="spacingAndGlyphs" class="bl n">A</text>
<text x="381.10" y="493.85" textLength="8.70" lengthAdjust="spacingAndGlyphs" class="bl n">A</text>
<text x="447.56" y="493.85" textLength="7.88" lengthAdjust="spacingAndGlyphs" class="bl n">T</text>
<text x="513.61" y="493.85" textLength="7.88" lengthAdjust="spacingAndGlyphs" class="bl n">T</text>
<text x="579.25" y="493.85" textLength="8.70" lengthAdjust="spacingAndGlyphs" class="bl n">A</text>
<text x="645.30" y="493.85" textLength="8.70" lengthAdjust="spacingAndGlyphs" class="bl n">A</text>
<text x="711.35" y="493.85" textLength="8.70" lengthAdjust="spacingAndGlyphs" class="bl n">A</text>
<text x="777.81" y="493.85" textLength="7.88" lengthAdjust="spacingAndGlyphs" class="bl n">T</text>
<text x="843.45" y="493.85" textLength="8.70" lengthAdjust="spacingAndGlyphs" class="bl n">A</text>
<text x="909.50" y="493.85" textLength="8.70" lengthAdjust="spacingAndGlyphs" class="bl n">A</text>
<text x="183.06" y="510.05" class="e" textLength="7.61" lengthAdjust="spacingAndGlyphs">=</text>
<text x="249.14" y="510.05" class="e" textLength="7.61" lengthAdjust="spacingAndGlyphs">=</text>
<text x="315.22" y="510.05" class="e" textLength="7.61" lengthAdjust="spacingAndGlyphs">=</text>
<text x="381.30" y="510.05" class="e" textLength="7.61" lengthAdjust="spacingAndGlyphs">=</text>
<text x="447.38" y="510.05" class="e" textLength="7.61" lengthAdjust="spacingAndGlyphs">=</text>
<text x="513.46" y="510.05" class="e" textLength="7.61" lengthAdjust="spacingAndGlyphs">=</text>
<text x="579.54" y="510.05" class="e" textLength="7.61" lengthAdjust="spacingAndGlyphs">=</text>
<text x="645.62" y="510.05" class="e" textLength="7.61" lengthAdjust="spacingAndGlyphs">=</text>
<text x="711.70" y="510.05" class="e" textLength="7.61" lengthAdjust="spacingAndGlyphs">=</text>
<text x="777.78" y="510.05" class="e" textLength="7.61" lengthAdjust="spacingAndGlyphs">=</text>
<text x="843.86" y="510.05" class="e" textLength="7.61" lengthAdjust="spacingAndGlyphs">=</text>
<text x="909.94" y="510.05" class="e" textLength="7.61" lengthAdjust="spacingAndGlyphs">=</text>
<text x="183.06" y="525.05" class="e" textLength="7.61" lengthAdjust="spacingAndGlyphs">=</text>
<text x="249.14" y="525.05" class="e" textLength="7.61" lengthAdjust="spacingAndGlyphs">=</text>
<text x="315.22" y="525.05" class="e" textLength="7.61" lengthAdjust="spacingAndGlyphs">=</text>
<text x="381.30" y="525.05" class="e" textLength="7.61" lengthAdjust="spacingAndGlyphs">=</text>
<text x="447.38" y="525.05" class="e" textLength="7.61" lengthAdjust="spacingAndGlyphs">=</text>
<text x="513.46" y="525.05" class="e" textLength="7.61" lengthAdjust="spacingAndGlyphs">=</text>
<text x="579.54" y="525.05" class="e" textLength="7.61" lengthAdjust="spacingAndGlyphs">=</text>
<text x="645.62" y="525.05" class="e" textLength="7.61" lengthAdjust="spacingAndGlyphs">=</text>
<text x="711.70" y="525.05" class="e" textLength="7.61" lengthAdjust="spacingAndGlyphs">=</text>
<text x="777.78" y="525.05" class="e" textLength="7.61" lengthAdjust="spacingAndGlyphs">=</text>
<text x="843.86" y="525.05" class="e" textLength="7.61" lengthAdjust="spacingAndGlyphs">=</text>
<text x="909.94" y="525.05" class="e" textLength="7.61" lengthAdjust="spacingAndGlyphs">=</text>
<text x="183.06" y="540.05" class="e" textLength="7.61" lengthAdjust="spacingAndGlyphs">=</text>
<text x="249.14" y="540.05" class="e" textLength="7.61" lengthAdjust="spacingAndGlyphs">=</text>
<text x="315.22" y="540.05" class="e" textLength="7.61" lengthAdjust="spacingAndGlyphs">=</text>
<text x="381.30" y="540.05" class="e" textLength="7.61" lengthAdjust="spacingAndGlyphs">=</text>
<text x="447.38" y="540.05" class="e" textLength="7.61" lengthAdjust="spacingAndGlyphs">=</text>
<text x="513.46" y="540.05" class="e" textLength="7.61" lengthAdjust="spacingAndGlyphs">=</text>
<text x="579.54" y="540.05" class="e" textLength="7.61" lengthAdjust="spacingAndGlyphs">=</text>
<text x="645.62" y="540.05" class="e" textLength="7.61" lengthAdjust="spacingAndGlyphs">=</text>
<text x="711.70" y="540.05" class="e" textLength="7.61" lengthAdjust="spacingAndGlyphs">=</text>
<text x="777.78" y="540.05" class="e" textLength="7.61" lengthAdjust="spacingAndGlyphs">=</text>
<text x="843.86" y="540.05" class="e" textLength="7.61" lengthAdjust="spacingAndGlyphs">=</text>
<text x="909.94" y="540.05" class="e" textLength="7.61" lengthAdjust="spacingAndGlyphs">=</text>
<text x="182.95" y="583.85" textLength="8.70" lengthAdjust="spacingAndGlyphs" class="bl n">A</text>
<text x="249.00" y="583.85" textLength="8.70" lengthAdjust="spacingAndGlyphs" class="bl n">A</text>
<text x="315.05" y="583.85" textLength="8.70" lengthAdjust="spacingAndGlyphs" class="bl n">A</text>
<text x="381.51" y="583.85" textLength="7.88" lengthAdjust="spacingAndGlyphs" class="bl l">T</text>
<text x="447.56" y="583.85" textLength="7.88" lengthAdjust="spacingAndGlyphs" class="bl n">T</text>
<text x="513.61" y="583.85" textLength="7.88" lengthAdjust="spacingAndGlyphs" class="bl n">T</text>
<text x="579.25" y="583.85" textLength="8.70" lengthAdjust="spacingAndGlyphs" class="bl n">A</text>
<text x="644.94" y="583.85" textLength="9.42" lengthAdjust="spacingAndGlyphs" class="bl l">C</text>
<text x="711.35" y="583.85" textLength="8.70" lengthAdjust="spacingAndGlyphs" class="bl n">A</text>
<text x="777.81" y="583.85" textLength="7.88" lengthAdjust="spacingAndGlyphs" class="bl n">T</text>
<text x="843.86" y="583.85" textLength="7.88" lengthAdjust="spacingAndGlyphs" class="bl l">T</text>
<text x="909.91" y="583.85" textLength="7.88" lengthAdjust="spacingAndGlyphs" class="bl l">T</text>
</svg>
</body></html>
